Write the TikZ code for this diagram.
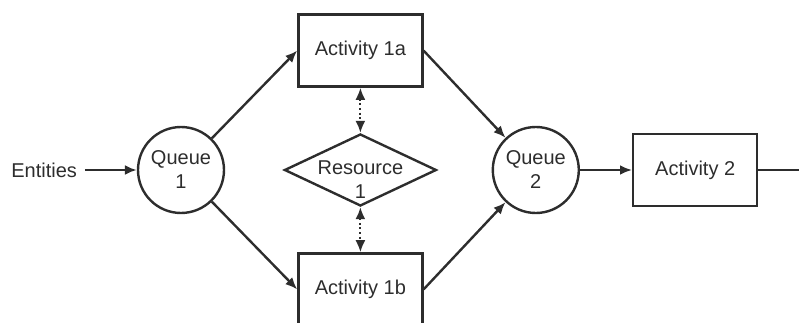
\documentclass[tikz,border=0pt]{standalone}
\usepackage{fontspec}
\setmainfont{Liberation Sans}
\usepackage{tikz}
\usetikzlibrary{arrows.meta,positioning,shapes.geometric}
\definecolor{flowgray}{RGB}{45,45,45}

\begin{document}
\begin{tikzpicture}[x=1pt,y=1pt,>={Latex[length=6pt,width=5pt]},
  color=flowgray, line width=1.2pt,
  every node/.style={font=\fontsize{10}{12}\selectfont},
  queue/.style={draw,circle,minimum size=43pt,inner sep=0pt,align=center},
  actbox/.style={draw,rectangle,minimum width=62pt,minimum height=36pt},
  resdiamond/.style={draw,diamond,minimum width=76pt,minimum height=36pt,inner sep=0pt},
  link/.style={<->,dash pattern=on 1pt off 1.3pt,line width=1pt}]
\useasboundingbox (0,0) rectangle (399.5,161);
\node[queue] (q1) at (90.5,76) {Queue\\1};
\node[left=26pt of q1] (ent) {Entities};
\node[resdiamond,right=29pt of q1] (r1) {};
\node[align=center,yshift=-5pt] (r1txt) at (r1) {Resource\\1};
\node[actbox,above=22.5pt of r1] (a1) {Activity 1a};
\node[actbox,below=22.5pt of r1] (b1) {Activity 1b};
\node[queue,right=27pt of r1] (q2) {Queue\\2};
\node[actbox,right=26pt of q2] (a2) {Activity 2};
\coordinate[right=26.5pt of a2.east] (out);
\draw[->] (ent) -- (q1);
\draw[->] (q1) -- (a1.west);
\draw[->] (q1) -- (b1.west);
\draw[->] (a1.east) -- (q2);
\draw[->] (b1.east) -- (q2);
\draw[->] (q2) -- (a2);
\draw[->] (a2) -- (out);
\draw[link] (a1) -- (r1);
\draw[link] (r1) -- (b1);
\end{tikzpicture}
\end{document}
